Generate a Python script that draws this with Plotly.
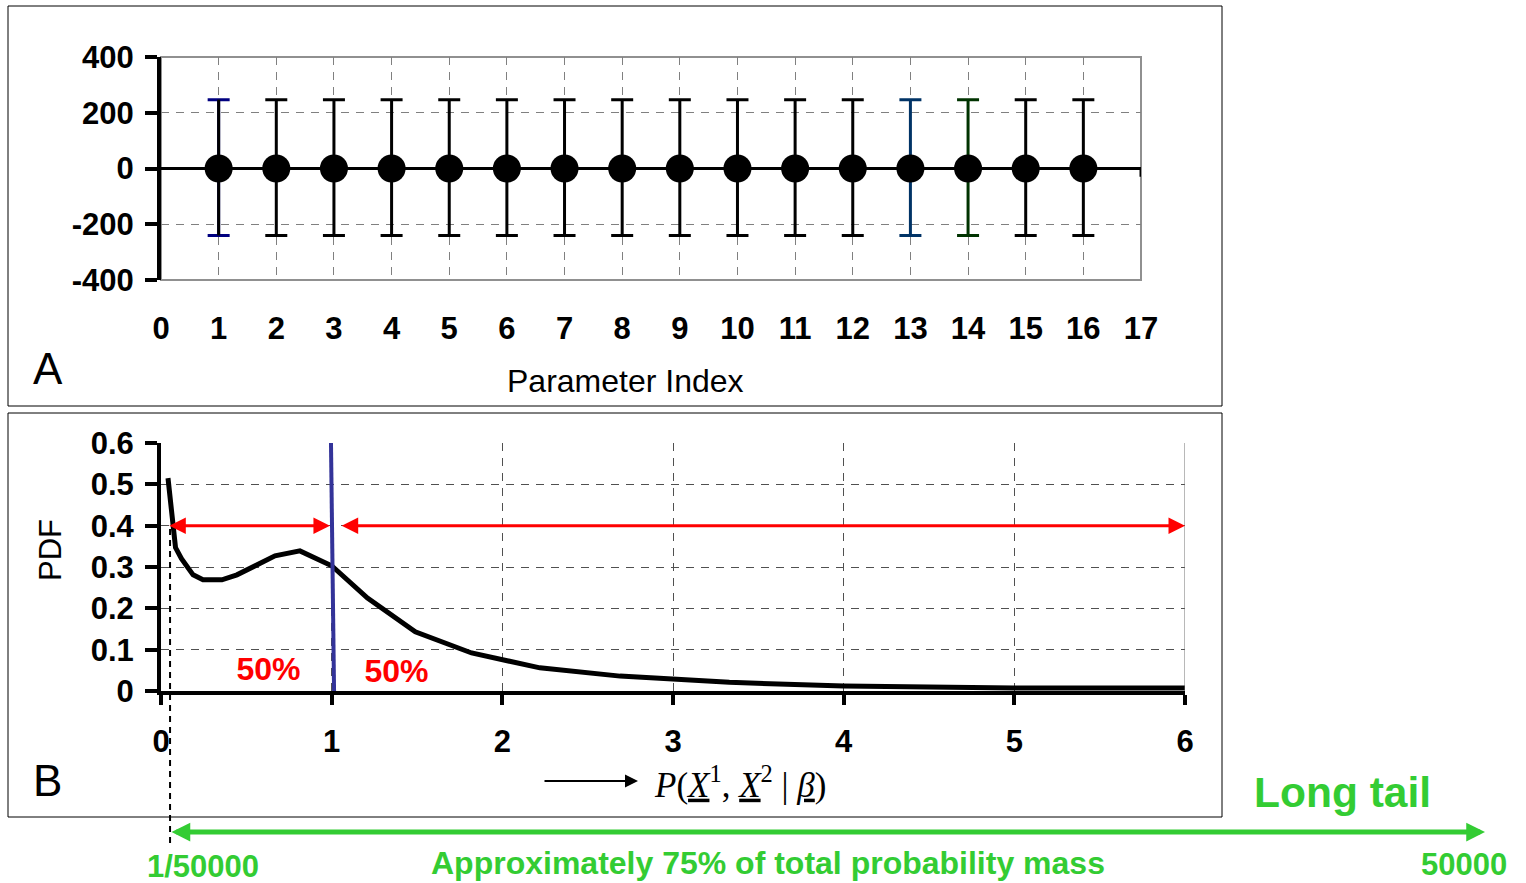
import plotly.graph_objects as go

# ---------------- data ----------------
# Panel A: parameter estimates with error bars
param_index = list(range(1, 17))
param_value = [0] * 16
err_plus = [247] * 16
err_minus = [240] * 16
stem_color = ["#000000"] * 16
cap_color = ["#000000"] * 16
cap_color[0] = "#000080"          # index 1: navy caps
stem_color[12] = cap_color[12] = "#003366"   # index 13
stem_color[13] = cap_color[13] = "#003300"   # index 14

a_xticks = list(range(0, 18))
a_yticks = [-400, -200, 0, 200, 400]

# Panel B: PDF of P(X1, X2 | beta)
pdf_x = [0.041, 0.085, 0.12, 0.188, 0.246, 0.357, 0.445, 0.668, 0.814, 1.0,
         1.21, 1.49, 1.82, 2.22, 2.69, 3.33, 4.0, 5.0, 6.0]
pdf_y = [0.515, 0.347, 0.32, 0.281, 0.269, 0.269, 0.281, 0.327, 0.339, 0.303,
         0.225, 0.143, 0.092, 0.056, 0.036, 0.021, 0.012, 0.007, 0.007]
median_x = [0.996, 1.014]
median_y = [0.6, 0.0]
b_xticks = [0, 1, 2, 3, 4, 5, 6]
b_yticks = [0, 0.1, 0.2, 0.3, 0.4, 0.5, 0.6]
b_yticktext = ["0", "0.1", "0.2", "0.3", "0.4", "0.5", "0.6"]
arrow_level = 0.4
left_span = [0.04, 0.99]
right_span = [1.05, 6.0]
pct_labels = ["50%", "50%"]
pct_x = [0.63, 1.38]
pct_y = [0.046, 0.04]

W, H = 1526, 883
def px(x):
    return x / W
def py(y):
    return 1 - y / H

SANS = "Liberation Sans, Arial, sans-serif"
SERIF = "Liberation Serif, Times New Roman, serif"
GREEN = "#33CC33"
RED = "#FF0000"

fig = go.Figure()

# ---- Panel A traces ----
for i, xi in enumerate(param_index):
    if cap_color[i] != stem_color[i]:
        fig.add_trace(go.Scatter(
            x=[xi], y=[param_value[i]], mode="markers",
            marker=dict(size=1, color="rgba(0,0,0,0)"),
            error_y=dict(type="data", symmetric=False, array=[err_plus[i]],
                         arrayminus=[err_minus[i]], color=cap_color[i],
                         thickness=3, width=11),
            xaxis="x", yaxis="y", showlegend=False, hoverinfo="skip"))
        w = 0
    else:
        w = 11
    fig.add_trace(go.Scatter(
        x=[xi], y=[param_value[i]], mode="markers",
        marker=dict(size=28, color="#000000"),
        error_y=dict(type="data", symmetric=False, array=[err_plus[i]],
                     arrayminus=[err_minus[i]], color=stem_color[i],
                     thickness=3, width=w),
        xaxis="x", yaxis="y", showlegend=False))

# ---- Panel B traces ----
fig.add_trace(go.Scatter(x=pdf_x, y=pdf_y, mode="lines",
                         line=dict(color="#000000", width=5),
                         xaxis="x2", yaxis="y2", showlegend=False))
fig.add_trace(go.Scatter(x=median_x, y=median_y, mode="lines",
                         line=dict(color="#333399", width=4),
                         xaxis="x2", yaxis="y2", showlegend=False))
fig.add_trace(go.Scatter(x=pct_x, y=pct_y, mode="text", text=pct_labels,
                         textfont=dict(family=SANS, size=32, color=RED, weight="bold"),
                         xaxis="x2", yaxis="y2", showlegend=False))

tickfont = dict(family=SANS, size=31, color="#000000", weight="bold")

fig.update_layout(
    template="none",
    width=W, height=H, margin=dict(l=0, r=0, t=0, b=0, pad=0, autoexpand=False),
    paper_bgcolor="white", plot_bgcolor="white", showlegend=False,
    xaxis=dict(domain=[px(161), px(1141)], range=[0, 17], tickvals=a_xticks,
               showgrid=True, gridcolor="#808080", griddash="8px,7px", gridwidth=1,
               zeroline=False, showline=False, ticks="", tickfont=tickfont,
               ticklabelstandoff=27, anchor="y", fixedrange=True, automargin=False),
    yaxis=dict(domain=[py(280), py(57)], range=[-400, 400], tickvals=a_yticks,
               ticktext=[str(v) for v in a_yticks],
               showgrid=True, gridcolor="#808080", griddash="8px,7px", gridwidth=1,
               zeroline=True, zerolinecolor="#000000", zerolinewidth=3,
               showline=True, linecolor="#000000", linewidth=4,
               ticks="outside", ticklen=12, tickwidth=4, tickcolor="#000000",
               tickfont=tickfont, ticklabelstandoff=5, anchor="x", fixedrange=True,
               automargin=False),
    xaxis2=dict(domain=[px(161), px(1185)], range=[0, 6], tickvals=b_xticks,
                showgrid=True, gridcolor="#505050", griddash="8px,7px", gridwidth=1,
                zeroline=False, showline=True, linecolor="#000000", linewidth=4,
                ticks="outside", ticklen=10, tickwidth=4, tickcolor="#000000",
                tickfont=tickfont, ticklabelstandoff=10, anchor="y2", fixedrange=True,
                automargin=False),
    yaxis2=dict(domain=[py(691), py(443)], range=[0, 0.6], tickvals=b_yticks,
                ticktext=b_yticktext,
                showgrid=True, gridcolor="#505050", griddash="8px,7px", gridwidth=1,
                zeroline=False, showline=True, linecolor="#000000", linewidth=4,
                ticks="outside", ticklen=12, tickwidth=4, tickcolor="#000000",
                tickfont=tickfont, ticklabelstandoff=5, anchor="x2", fixedrange=True,
                automargin=False),
)

shapes = [
    # outer frames
    dict(type="rect", xref="paper", yref="paper", x0=px(8), x1=px(1222), y0=py(406), y1=py(6),
         line=dict(color="#000000", width=1), layer="below"),
    dict(type="rect", xref="paper", yref="paper", x0=px(8), x1=px(1222), y0=py(817), y1=py(413),
         line=dict(color="#000000", width=1), layer="below"),
    # panel A plot-area border
    dict(type="rect", xref="x domain", yref="y domain", x0=0, x1=1, y0=0, y1=1,
         line=dict(color="#909090", width=2), layer="below"),
    # small tick at right end of zero line
    dict(type="line", xref="x", yref="y", x0=17, x1=17, y0=0, y1=-30,
         line=dict(color="#000000", width=3)),
    # panel B right border
    dict(type="line", xref="x2", yref="y2", x0=6, x1=6, y0=0, y1=0.6,
         line=dict(color="#707070", width=1)),
    # dashed marker of 1/50000 position
    dict(type="line", xref="x2", yref="paper", x0=0.053, x1=0.053, y0=py(843), y1=py(527),
         line=dict(color="#000000", width=2, dash="6px,5px")),
]
fig.update_layout(shapes=shapes)

def label(text, x, y, size, color="#000000", family=SANS, **kw):
    return dict(text=text, x=px(x), y=py(y), xref="paper", yref="paper", showarrow=False,
                xanchor="center", yanchor="middle",
                font=dict(family=family, size=size, color=color), **kw)

annotations = [
    label("A", 48, 368, 44),
    label("B", 47, 780, 44),
    label("Parameter Index", 625, 381, 32),
    label("PDF", 50, 550, 31, textangle=-90),
    label("<i>P</i>(<u><i>X</i></u><sup>1</sup>, <u><i>X</i></u><sup>2</sup> | <u><i>β</i></u>)",
          740, 782, 35, family=SERIF),
    # arrow pointing to the math label
    dict(text="", x=px(638), y=py(781), xref="paper", yref="paper", showarrow=True,
         ax=-95, ay=0, axref="pixel", ayref="pixel", arrowhead=2, arrowsize=1.3,
         arrowwidth=2, arrowcolor="#000000", standoff=0, startstandoff=0),
    # red double arrows
    dict(text="", x=left_span[1], y=arrow_level, ax=left_span[0], ay=arrow_level,
         xref="x2", yref="y2", axref="x2", ayref="y2", showarrow=True,
         arrowhead=2, startarrowhead=2, arrowside="end+start", arrowsize=1.1,
         startarrowsize=1.1, arrowwidth=3, arrowcolor=RED, standoff=0, startstandoff=0),
    dict(text="", x=right_span[1], y=arrow_level, ax=right_span[0], ay=arrow_level,
         xref="x2", yref="y2", axref="x2", ayref="y2", showarrow=True,
         arrowhead=2, startarrowhead=2, arrowside="end+start", arrowsize=1.1,
         startarrowsize=1.1, arrowwidth=3, arrowcolor=RED, standoff=0, startstandoff=0),
    # green long-tail arrow
    dict(text="", x=px(1485), y=py(832), xref="paper", yref="paper",
         ax=-(1485 - 170), ay=0, axref="pixel", ayref="pixel", showarrow=True,
         arrowhead=2, startarrowhead=2, arrowside="end+start", arrowsize=0.75,
         startarrowsize=0.75, arrowwidth=5, arrowcolor=GREEN, standoff=0, startstandoff=0),
    label("<b>Long tail</b>", 1342, 792, 42.5, color=GREEN),
    label("<b>Approximately 75% of total probability mass</b>", 768, 863, 32, color=GREEN),
    label("<b>1/50000</b>", 203, 866, 31, color=GREEN),
    label("<b>50000</b>", 1464, 864, 31, color=GREEN),
]
fig.update_layout(annotations=annotations)

fig.write_html("out.html", config={"displayModeBar": False},
               post_script="document.body.style.margin='0';document.body.style.overflow='hidden';")
